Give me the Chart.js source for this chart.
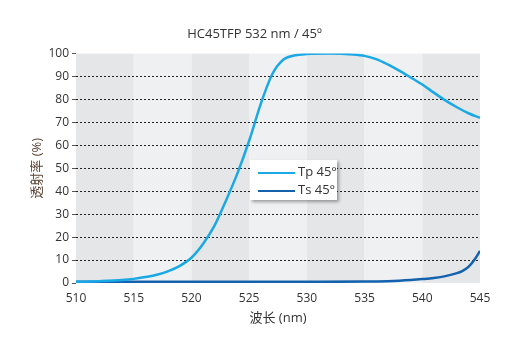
<!DOCTYPE html>
<html>
<head>
<meta charset="utf-8">
<script src="https://cdn.jsdelivr.net/npm/chart.js@4.4.0/dist/chart.umd.min.js"></script>
<style>
    html, body { margin: 0; padding: 0; background: #fff; }
    #wrap { position: relative; width: 521px; height: 354px; }
    #legend {
        position: absolute; left: 250px; top: 160px; width: 87px; height: 40px;
        background: #fff; box-shadow: 2px 2px 3px rgba(0,0,0,0.35);
        font-family: "Open Sans", "Noto Sans", sans-serif; font-size: 13px; color: #333;
    }
    #legend .row { position: absolute; left: 8px; height: 16px; line-height: 16px; }
    #legend .line { display: inline-block; width: 37px; height: 2px; vertical-align: middle; margin-right: 3px; }
</style>
</head>
<body>
<div id="wrap">
    <canvas id="chart" width="521" height="354"></canvas>
    <div id="legend">
        <div class="row" style="top:3px"><span class="line" style="background:#1aa9e6"></span>Tp 45°</div>
        <div class="row" style="top:21px"><span class="line" style="background:#1462ae"></span>Ts 45°</div>
    </div>
</div>
<script>
// Données
const tpWavelengths = [510, 512, 514, 515, 516, 517, 518, 519, 520, 521, 522, 523, 524, 525, 526, 527, 528, 529, 530, 532, 534, 535, 536, 537, 538, 539, 540, 541, 542, 543, 544, 545];
const tpValues = [0.5, 0.8, 1.3, 1.8, 2.6, 3.6, 5.2, 7.5, 11, 17, 25, 36, 48, 62, 78, 91, 97.5, 99.3, 99.8, 100, 99.6, 99, 97.6, 95.3, 92.6, 89.6, 86.5, 83, 79.6, 76.6, 74, 72];
const tsWavelengths = [510, 520, 530, 535, 537, 538, 539, 540, 541, 542, 543, 543.5, 544, 544.5, 545];
const tsValues = [0.5, 0.5, 0.5, 0.6, 0.8, 1, 1.3, 1.7, 2.2, 3, 4.3, 5.3, 7, 10, 14];
const xTicks = [510, 515, 520, 525, 530, 535, 540, 545];
const yTicks = [0, 10, 20, 30, 40, 50, 60, 70, 80, 90, 100];

const fontFamily = '"Open Sans", "Noto Sans", "Noto Sans CJK SC", sans-serif';

function toPoints(xs, ys) {
    return xs.map((x, i) => ({ x: x, y: ys[i] }));
}

/**
 * Bandes verticales alternées en arrière-plan
 */
const bandsPlugin = {
    id: 'bands',
    beforeDraw(chart) {
        const { ctx, chartArea, scales } = chart;
        for (let i = 0; i < xTicks.length - 1; i++) {
            const x0 = scales.x.getPixelForValue(xTicks[i]);
            const x1 = scales.x.getPixelForValue(xTicks[i + 1]);
            ctx.fillStyle = i % 2 === 0 ? '#e5e6e8' : '#eff0f2';
            ctx.fillRect(x0, chartArea.top, x1 - x0, chartArea.bottom - chartArea.top);
        }
    }
};

new Chart(document.getElementById('chart').getContext('2d'), {
    type: 'line',
    data: {
        datasets: [
            {
                label: 'Tp 45°',
                data: toPoints(tpWavelengths, tpValues),
                borderColor: '#1aa9e6',
                borderWidth: 2.5,
                pointRadius: 0,
                cubicInterpolationMode: 'monotone',
                fill: false
            },
            {
                label: 'Ts 45°',
                data: toPoints(tsWavelengths, tsValues),
                borderColor: '#1462ae',
                borderWidth: 2.5,
                pointRadius: 0,
                cubicInterpolationMode: 'monotone',
                fill: false
            }
        ]
    },
    options: {
        responsive: false,
        animation: false,
        layout: { padding: { left: 29, right: 41, top: 0, bottom: 24 } },
        plugins: {
            legend: { display: false },
            tooltip: { enabled: false },
            title: {
                display: true,
                text: 'HC45TFP 532 nm / 45º',
                color: '#333',
                font: { family: fontFamily, size: 13, weight: 'normal' },
                padding: { top: 26, bottom: 12 }
            }
        },
        scales: {
            x: {
                type: 'linear',
                min: 510,
                max: 545,
                afterBuildTicks: axis => { axis.ticks = xTicks.map(v => ({ value: v })); },
                grid: { display: false },
                border: { display: false },
                ticks: { color: '#333', font: { family: fontFamily, size: 12 }, padding: 0 },
                title: {
                    display: true,
                    text: '波长 (nm)',
                    color: '#333',
                    font: { family: fontFamily, size: 13 },
                    padding: { top: 5 }
                }
            },
            y: {
                min: 0,
                max: 100,
                afterBuildTicks: axis => { axis.ticks = yTicks.map(v => ({ value: v })); },
                afterFit: axis => { axis.width = 47; },
                border: { display: false, dash: [2, 2] },
                grid: {
                    color: ctx => (ctx.tick.value === 0 || ctx.tick.value === 100) ? 'transparent' : '#222',
                    tickColor: '#555',
                    tickLength: 4,
                    lineWidth: 1
                },
                ticks: { color: '#333', font: { family: fontFamily, size: 12 }, padding: 3 },
                title: {
                    display: true,
                    text: '透射率 (%)',
                    color: '#5e4536',
                    font: { family: fontFamily, size: 13 },
                    padding: 0
                }
            }
        }
    },
    plugins: [bandsPlugin]
});
</script>
</body>
</html>
